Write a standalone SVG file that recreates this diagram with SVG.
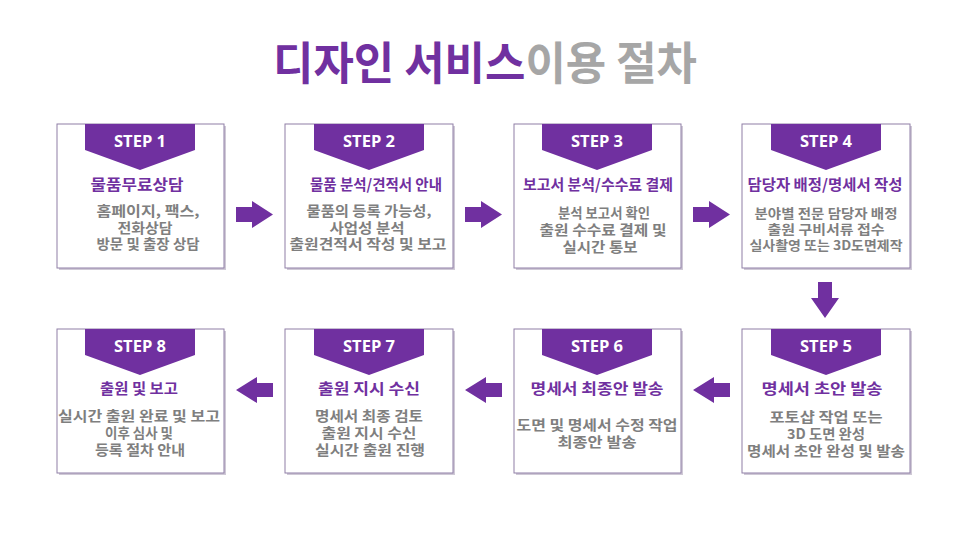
<svg xmlns="http://www.w3.org/2000/svg" width="966" height="543" viewBox="0 0 966 543">
<style>
  text { font-family: "Noto Sans CJK KR", "Noto Sans", sans-serif; text-anchor: middle; }
  .bg { fill: #ffffff; }
  .shadow { fill: #cfc9d6; }
  .box { fill: #ffffff; stroke: #8f7fa6; stroke-width: 1; }
  .banner { fill: #7030a0; }
  .step { fill: #ffffff; font-family: "Open Sans", "Noto Sans", sans-serif; font-weight: 700; font-size: 16.5px; }
  .ttl { fill: #7030a0; font-weight: 700; font-size: 15px; }
  .body { fill: #7f7f7f; font-weight: 700; font-size: 14px; }
  .body.sm { font-size: 13px; }
  .arrow { fill: #7030a0; }
  .main { font-weight: 700; font-size: 45px; }
</style>
<rect class="bg" x="0" y="0" width="966" height="543"/>
<g id="title">
  <text class="main" x="485" y="80" textLength="424" lengthAdjust="spacingAndGlyphs"><tspan fill="#7030a0">디자인 서비스</tspan><tspan fill="#a6a6a6">이용 절차</tspan></text>
</g>

<g id="step1">
  <rect class="shadow" x="59" y="126" width="167" height="144"/>
  <rect class="box" x="57" y="124" width="167" height="144"/>
  <path class="banner" d="M85,124 H195 V150 L140,170 L85,150 Z"/>
  <text class="step" x="140" y="147">STEP 1</text>
  <text class="ttl" x="137" y="190" textLength="93" lengthAdjust="spacingAndGlyphs">물품무료상담</text>
  <text class="body" x="148" y="216" textLength="103" lengthAdjust="spacingAndGlyphs">홈페이지, 팩스,</text>
  <text class="body" x="145" y="233" textLength="55" lengthAdjust="spacingAndGlyphs">전화상담</text>
  <text class="body" x="148" y="249" textLength="103" lengthAdjust="spacingAndGlyphs">방문 및 출장 상담</text>
</g>

<g id="step2">
  <rect class="shadow" x="287" y="126" width="168" height="144"/>
  <rect class="box" x="285" y="124" width="168" height="144"/>
  <path class="banner" d="M314,124 H424 V150 L369,170 L314,150 Z"/>
  <text class="step" x="369" y="147">STEP 2</text>
  <text class="ttl" x="376" y="190" textLength="132" lengthAdjust="spacingAndGlyphs">물품 분석/견적서 안내</text>
  <text class="body" x="369" y="216" textLength="125" lengthAdjust="spacingAndGlyphs">물품의 등록 가능성,</text>
  <text class="body" x="367" y="233" textLength="75" lengthAdjust="spacingAndGlyphs">사업성 분석</text>
  <text class="body" x="368" y="249" textLength="157" lengthAdjust="spacingAndGlyphs">출원견적서 작성 및 보고</text>
</g>

<g id="step3">
  <rect class="shadow" x="516" y="126" width="167" height="144"/>
  <rect class="box" x="514" y="124" width="167" height="144"/>
  <path class="banner" d="M542,124 H652 V150 L597,170 L542,150 Z"/>
  <text class="step" x="597" y="147">STEP 3</text>
  <text class="ttl" x="598" y="190" textLength="150" lengthAdjust="spacingAndGlyphs">보고서 분석/수수료 결제</text>
  <text class="body" x="604" y="218" textLength="92" lengthAdjust="spacingAndGlyphs">분석 보고서 확인</text>
  <text class="body" x="603" y="235" textLength="127" lengthAdjust="spacingAndGlyphs">출원 수수료 결제 및</text>
  <text class="body" x="600" y="252" textLength="75" lengthAdjust="spacingAndGlyphs">실시간 통보</text>
</g>

<g id="step4">
  <rect class="shadow" x="744" y="126" width="168" height="144"/>
  <rect class="box" x="742" y="124" width="168" height="144"/>
  <path class="banner" d="M771,124 H881 V150 L826,170 L771,150 Z"/>
  <text class="step" x="826" y="147">STEP 4</text>
  <text class="ttl" x="825" y="190" textLength="155" lengthAdjust="spacingAndGlyphs">담당자 배정/명세서 작성</text>
  <text class="body sm" x="826" y="218" textLength="143" lengthAdjust="spacingAndGlyphs">분야별 전문 담당자 배정</text>
  <text class="body sm" x="826" y="234" textLength="117" lengthAdjust="spacingAndGlyphs">출원 구비서류 접수</text>
  <text class="body sm" x="826" y="250" textLength="153" lengthAdjust="spacingAndGlyphs">실사촬영 또는 3D도면제작</text>
</g>

<g id="step5">
  <rect class="shadow" x="744" y="331" width="168" height="144"/>
  <rect class="box" x="742" y="329" width="168" height="144"/>
  <path class="banner" d="M771,329 H881 V355 L826,375 L771,355 Z"/>
  <text class="step" x="826" y="352">STEP 5</text>
  <text class="ttl" x="822" y="394" textLength="121" lengthAdjust="spacingAndGlyphs">명세서 초안 발송</text>
  <text class="body" x="826" y="422" textLength="113" lengthAdjust="spacingAndGlyphs">포토샵 작업 또는</text>
  <text class="body" x="826" y="439" textLength="78" lengthAdjust="spacingAndGlyphs">3D 도면 완성</text>
  <text class="body" x="826" y="456" textLength="158" lengthAdjust="spacingAndGlyphs">명세서 초안 완성 및 발송</text>
</g>

<g id="step6">
  <rect class="shadow" x="516" y="331" width="167" height="144"/>
  <rect class="box" x="514" y="329" width="167" height="144"/>
  <path class="banner" d="M542,329 H652 V355 L597,375 L542,355 Z"/>
  <text class="step" x="597" y="352">STEP 6</text>
  <text class="ttl" x="597" y="394" textLength="133" lengthAdjust="spacingAndGlyphs">명세서 최종안 발송</text>
  <text class="body" x="597" y="430" textLength="161" lengthAdjust="spacingAndGlyphs">도면 및 명세서 수정 작업</text>
  <text class="body" x="597" y="447" textLength="79" lengthAdjust="spacingAndGlyphs">최종안 발송</text>
</g>

<g id="step7">
  <rect class="shadow" x="287" y="331" width="168" height="144"/>
  <rect class="box" x="285" y="329" width="168" height="144"/>
  <path class="banner" d="M314,329 H424 V355 L369,375 L314,355 Z"/>
  <text class="step" x="369" y="352">STEP 7</text>
  <text class="ttl" x="369" y="394" textLength="102" lengthAdjust="spacingAndGlyphs">출원 지시 수신</text>
  <text class="body" x="369" y="421" textLength="108" lengthAdjust="spacingAndGlyphs">명세서 최종 검토</text>
  <text class="body" x="369" y="438" textLength="95" lengthAdjust="spacingAndGlyphs">출원 지시 수신</text>
  <text class="body" x="370" y="455" textLength="110" lengthAdjust="spacingAndGlyphs">실시간 출원 진행</text>
</g>

<g id="step8">
  <rect class="shadow" x="59" y="331" width="167" height="144"/>
  <rect class="box" x="57" y="329" width="167" height="144"/>
  <path class="banner" d="M85,329 H195 V355 L140,375 L85,355 Z"/>
  <text class="step" x="140" y="352">STEP 8</text>
  <text class="ttl" x="139" y="394" textLength="78" lengthAdjust="spacingAndGlyphs">출원 및 보고</text>
  <text class="body" x="139" y="421" textLength="162" lengthAdjust="spacingAndGlyphs">실시간 출원 완료 및 보고</text>
  <text class="body" x="139" y="438" textLength="68" lengthAdjust="spacingAndGlyphs">이후 심사 및</text>
  <text class="body" x="140" y="455" textLength="90" lengthAdjust="spacingAndGlyphs">등록 절차 안내</text>
</g>

<g id="connectors">
  <path class="arrow" d="M236,207 H252 V201 L273,214.5 L252,228 V222 H236 Z"/>
  <path class="arrow" d="M465,207 H481 V201 L502,214.5 L481,228 V222 H465 Z"/>
  <path class="arrow" d="M693,207 H709 V201 L730,214.5 L709,228 V222 H693 Z"/>
  <path class="arrow" d="M818,282 H832 V298 H839 L825,318 L811,298 H818 Z"/>
  <path class="arrow" d="M730,383 H714 V377 L693,390 L714,403 V397 H730 Z"/>
  <path class="arrow" d="M502,383 H486 V377 L465,390 L486,403 V397 H502 Z"/>
  <path class="arrow" d="M273,383 H257 V377 L236,390 L257,403 V397 H273 Z"/>
</g>
</svg>
